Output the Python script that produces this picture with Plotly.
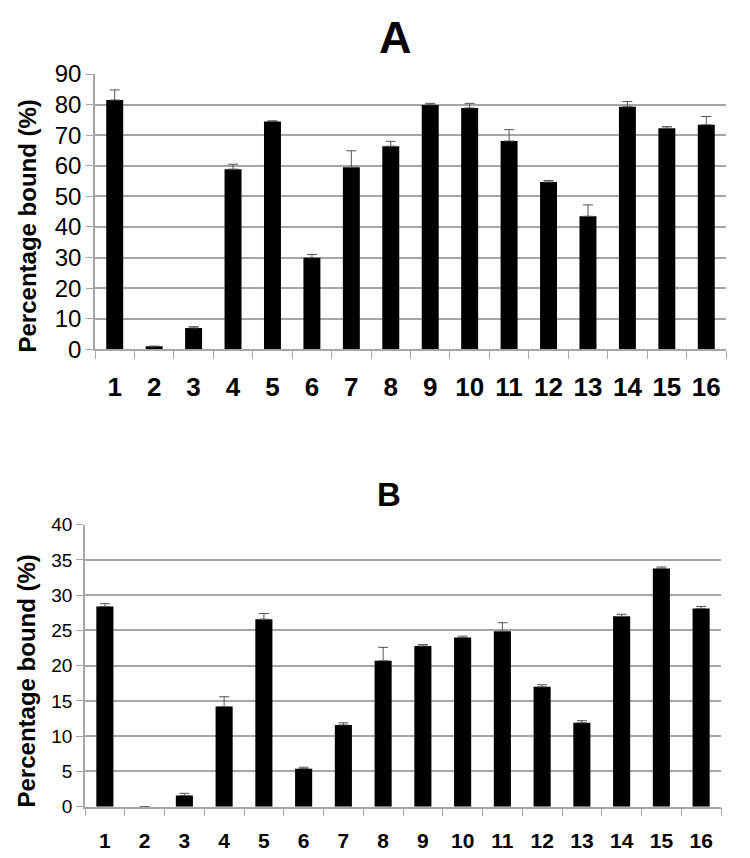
import plotly.graph_objects as go

# data
lanes = [str(i) for i in range(1, 17)]

bound_a = [81.5, 1.0, 7.0, 58.9, 74.5, 29.9, 59.5, 66.4, 79.9, 78.9, 68.1, 54.7, 43.5, 79.3, 72.3, 73.4]
err_a = [3.3, None, 0.4, 1.6, 0.2, 1.1, 5.4, 1.6, 0.5, 1.5, 3.7, 0.5, 3.7, 1.7, 0.5, 2.7]

bound_b = [28.4, 0.0, 1.6, 14.2, 26.6, 5.4, 11.6, 20.7, 22.8, 24.0, 24.9, 17.0, 11.9, 27.0, 33.8, 28.1]
err_b = [0.4, None, 0.3, 1.4, 0.8, 0.2, 0.3, 1.9, 0.2, 0.2, 1.2, 0.3, 0.3, 0.3, 0.2, 0.3]

# page has an 8px body margin, so the figure is drawn 8px smaller and coords shifted
OFF = 8
W, H = 750 - OFF, 858 - OFF


def px(x):
    return (x - OFF) / W


def py(y):
    return 1 - (y - OFF) / H


def upper_only(err):
    # one-sided (upward) error bars, nothing drawn where there is no error
    return dict(type="data", symmetric=False, array=err,
                arrayminus=[None if e is None else 0 for e in err],
                color="#555555", thickness=1, width=5)


arial = "Liberation Sans, Arial"
grid = "#a6a6a6"

fig = go.Figure()
fig.add_trace(go.Bar(x=lanes, y=bound_a, marker_color="black", marker_line_width=0,
                     error_y=upper_only(err_a), xaxis="x", yaxis="y"))
fig.add_trace(go.Bar(x=lanes, y=bound_b, marker_color="black", marker_line_width=0,
                     error_y=upper_only(err_b), xaxis="x2", yaxis="y2"))

xcommon = dict(type="category", tickson="boundaries", ticks="outside", ticklen=8, tickcolor=grid,
               showline=True, linecolor=grid, linewidth=1.5, showgrid=False, automargin=False,
               fixedrange=True)
ycommon = dict(showline=True, linecolor=grid, linewidth=1.5, showgrid=True, gridcolor=grid, gridwidth=1.5,
               ticks="outside", tickcolor=grid, ticklen=7, zeroline=False, automargin=False, fixedrange=True)

fig.update_layout(
    width=W, height=H,
    margin=dict(l=0, r=0, t=0, b=0),
    paper_bgcolor="white", plot_bgcolor="white",
    showlegend=False, bargap=0.57,
    xaxis=dict(domain=[px(95), px(726)], anchor="y", ticklabelstandoff=14,
               tickfont=dict(family=arial, size=26, color="black", weight="bold"), **xcommon),
    yaxis=dict(domain=[py(349.3), py(74)], anchor="x", range=[0, 90], dtick=10,
               tickfont=dict(family=arial, size=24, color="black"), **ycommon),
    xaxis2=dict(domain=[px(85), px(721)], anchor="y2", ticklabelstandoff=14,
                tickfont=dict(family=arial, size=21, color="black", weight="bold"), **xcommon),
    yaxis2=dict(domain=[py(806.7), py(524.7)], anchor="x2", range=[0, 40], dtick=5,
                tickfont=dict(family=arial, size=19, color="black"), **ycommon),
    annotations=[
        dict(text="<b>A</b>", x=px(395), y=py(38), xref="paper", yref="paper", showarrow=False,
             xanchor="center", yanchor="middle", font=dict(family=arial, size=45, color="black")),
        dict(text="<b>B</b>", x=px(389), y=py(494), xref="paper", yref="paper", showarrow=False,
             xanchor="center", yanchor="middle", font=dict(family=arial, size=33, color="black")),
        dict(text="<b>Percentage bound (%)</b>", x=px(26.5), y=py(226), xref="paper", yref="paper",
             showarrow=False, textangle=-90, xanchor="center", yanchor="middle",
             font=dict(family=arial, size=24, color="black")),
        dict(text="<b>Percentage bound (%)</b>", x=px(25.5), y=py(681), xref="paper", yref="paper",
             showarrow=False, textangle=-90, xanchor="center", yanchor="middle",
             font=dict(family=arial, size=24, color="black")),
    ],
)

fig.write_html("out.html")
